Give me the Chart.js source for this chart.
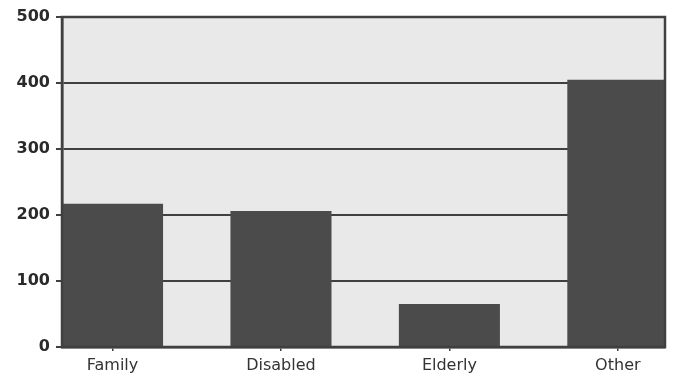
<!DOCTYPE html>
<html>
<head>
<meta charset="utf-8">
<script src="https://cdn.jsdelivr.net/npm/chart.js@4/dist/chart.umd.min.js"></script>
<style>
  html, body { margin: 0; padding: 0; background: #ffffff; }
  #wrap { width: 676px; height: 377px; }
</style>
</head>
<body>
<div id="wrap"><canvas id="chart" width="676" height="377"></canvas></div>
<script>
// Households by category
const categories = ['Family', 'Disabled', 'Elderly', 'Other'];
const counts = [217, 206, 65, 405];
const yTicks = [0, 100, 200, 300, 400, 500];

const dark = '#404040';
const barColor = '#4b4b4b';

// Light panel behind the bars, and a frame around the plot area
const plotPanel = {
  id: 'plotPanel',
  beforeDraw(chart) {
    const { ctx, chartArea: a } = chart;
    ctx.save();
    ctx.fillStyle = '#e9e9e9';
    ctx.fillRect(a.left, a.top, a.right - a.left, a.bottom - a.top);
    ctx.restore();
  },
  afterDraw(chart) {
    const { ctx, chartArea: a } = chart;
    ctx.save();
    ctx.strokeStyle = dark;
    ctx.lineWidth = 2.5;
    ctx.strokeRect(a.left, a.top, a.right - a.left, a.bottom - a.top);
    ctx.restore();
  }
};

new Chart(document.getElementById('chart'), {
  type: 'bar',
  data: {
    datasets: [{
      data: counts.map((v, i) => ({ x: i, y: v })),
      backgroundColor: barColor,
      borderWidth: 0,
      categoryPercentage: 0.6,
      barPercentage: 1.0
    }]
  },
  options: {
    responsive: false,
    animation: false,
    layout: { padding: { top: 17, right: 11, left: 0, bottom: 0 } },
    plugins: { legend: { display: false }, tooltip: { enabled: false } },
    scales: {
      x: {
        type: 'linear',
        offset: false,
        min: -0.3,
        max: 3.28,
        afterBuildTicks(axis) { axis.ticks = categories.map((_, i) => ({ value: i })); },
        afterFit(axis) { axis.height = 30; },
        grid: { offset: false, drawOnChartArea: false, drawTicks: true, tickLength: 4, tickColor: dark, lineWidth: 1.5 },
        border: { color: dark, width: 2.5 },
        ticks: {
          autoSkip: false,
          maxRotation: 0,
          padding: 5,
          color: '#333333',
          font: { family: 'DejaVu Sans', size: 16 },
          callback: (v) => categories[v] ?? ''
        }
      },
      y: {
        min: 0,
        max: 500,
        afterBuildTicks(axis) { axis.ticks = yTicks.map(v => ({ value: v })); },
        afterFit(axis) { axis.width = 62; },
        grid: { color: dark, lineWidth: 2, tickLength: 6, tickColor: dark },
        border: { color: dark, width: 2.5 },
        ticks: {
          padding: 6,
          color: '#2a2a2a',
          font: { family: 'DejaVu Sans', size: 16, weight: 'bold' }
        }
      }
    }
  },
  plugins: [plotPanel]
});
</script>
</body>
</html>
